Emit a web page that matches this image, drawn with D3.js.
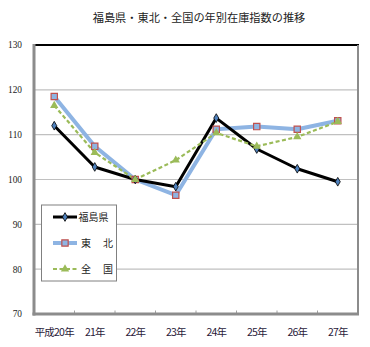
<!DOCTYPE html>
<html><head><meta charset="utf-8">
<script src="https://cdn.jsdelivr.net/npm/d3@7"></script>
<style>html,body{margin:0;padding:0;background:#fff;}svg{display:block;}</style>
</head><body>
<svg id="c" width="370" height="347"></svg>
<script>
const title = "福島県・東北・全国の年別在庫指数の推移";
const categories = ["平成20年","21年","22年","23年","24年","25年","26年","27年"];
const fukushima = [112.0, 102.8, 100.0, 98.4, 113.7, 106.8, 102.4, 99.5];
const tohoku    = [118.5, 107.4, 100.0, 96.5, 111.2, 111.8, 111.2, 113.1];
const zenkoku   = [116.5, 106.0, 100.0, 104.3, 110.4, 107.4, 109.5, 112.9];
const yTicks = [70, 80, 90, 100, 110, 120, 130];
const legendLabels = ["福島県", "東　北", "全　国"];

const svg = d3.select("#c");
const L = 34, R = 358, T = 45, B = 314;
const x = d3.scaleBand().domain(categories).range([L, R]);
const y = d3.scaleLinear().domain([70, 130]).range([B, T]);
const cx = d => x(d) + x.bandwidth() / 2;

svg.append("text").attr("x", 199).attr("y", 22).attr("text-anchor", "middle")
  .attr("font-family", "Noto Sans CJK JP").attr("font-size", 11.2).attr("fill", "#222").text(title);

// gridlines
svg.append("g").selectAll("line").data(yTicks.filter(t => t > 70 && t < 130)).join("line")
  .attr("x1", L).attr("x2", R).attr("y1", d => y(d)).attr("y2", d => y(d))
  .attr("stroke", "#c0c0c0").attr("stroke-width", 1.2);

// y labels
svg.append("g").selectAll("text").data(yTicks).join("text")
  .attr("x", 22).attr("y", d => y(d) + 3.5).attr("text-anchor", "end")
  .attr("font-family", "Liberation Serif").attr("font-size", 11).attr("fill", "#222")
  .attr("transform", d => `translate(22,0) scale(0.85,1) translate(-22,0)`)
  .text(d => d);

// frame
svg.append("line").attr("x1", L).attr("x2", R + 1).attr("y1", T).attr("y2", T).attr("stroke", "#000").attr("stroke-width", 2);
svg.append("line").attr("x1", R).attr("x2", R).attr("y1", T).attr("y2", B).attr("stroke", "#8c8c8c").attr("stroke-width", 2);

// x axis via d3
const xAxis = d3.axisBottom(x).tickSize(0).tickFormat(d => d);
const gx = svg.append("g").attr("transform", `translate(0,${B})`).call(xAxis);
gx.select(".domain").remove();
gx.selectAll("text").attr("font-family", "Noto Sans CJK JP").attr("font-size", 10.5).attr("fill", "#2a1a3a")
  .attr("y", 22).attr("dy", 0).attr("letter-spacing", "-0.8px");
// tick marks at band boundaries
svg.append("g").selectAll("line").data(categories.slice(1)).join("line")
  .attr("x1", d => x(d)).attr("x2", d => x(d)).attr("y1", B - 3.5).attr("y2", B)
  .attr("stroke", "#a0a0a0").attr("stroke-width", 1);
svg.append("line").attr("x1", L).attr("x2", L).attr("y1", T - 1).attr("y2", B + 1.5).attr("stroke", "#8c8c8c").attr("stroke-width", 3);
svg.append("line").attr("x1", L - 1.5).attr("x2", R + 1).attr("y1", B).attr("y2", B).attr("stroke", "#8c8c8c").attr("stroke-width", 3);

const line = d3.line().x((d, i) => cx(categories[i])).y(d => y(d));

// Tohoku
svg.append("path").datum(tohoku).attr("d", line).attr("fill", "none").attr("stroke", "#8eb4e3").attr("stroke-width", 4).attr("stroke-linejoin", "round");
// Fukushima
svg.append("path").datum(fukushima).attr("d", line).attr("fill", "none").attr("stroke", "#000").attr("stroke-width", 3).attr("stroke-linejoin", "round");
// Zenkoku
svg.append("path").datum(zenkoku).attr("d", line).attr("fill", "none").attr("stroke", "#9bbb59").attr("stroke-width", 2.2).attr("stroke-dasharray", "4,2.5");

const diamond = d3.symbol().type(d3.symbolDiamond).size(22);
const square = d3.symbol().type(d3.symbolSquare).size(40);
const tri = d3.symbol().type(d3.symbolTriangle).size(30);

function markFukushima(g, px, py) {
  g.append("path").attr("d", diamond()).attr("transform", `translate(${px},${py})`).attr("fill", "#4f81bd").attr("stroke", "#000").attr("stroke-width", 0.8);
}
function markTohoku(g, px, py) {
  g.append("path").attr("d", square()).attr("transform", `translate(${px},${py})`).attr("fill", "#8eb4e3").attr("stroke", "#c0504d").attr("stroke-width", 1.2);
}
function markZenkoku(g, px, py) {
  g.append("path").attr("d", tri()).attr("transform", `translate(${px},${py})`).attr("fill", "#9bbb59");
}
const mg = svg.append("g");
tohoku.forEach((v, i) => markTohoku(mg, cx(categories[i]), y(v)));
fukushima.forEach((v, i) => markFukushima(mg, cx(categories[i]), y(v)));
zenkoku.forEach((v, i) => markZenkoku(mg, cx(categories[i]), y(v)));

// legend
const lg = svg.append("g");
lg.append("rect").attr("x", 41.5).attr("y", 205).attr("width", 75).attr("height", 76).attr("fill", "#fff").attr("stroke", "#808080").attr("stroke-width", 1);
const ly = [217, 243, 269];
lg.append("line").attr("x1", 53).attr("x2", 77).attr("y1", ly[0]).attr("y2", ly[0]).attr("stroke", "#000").attr("stroke-width", 3);
markFukushima(lg, 65, ly[0]);
lg.append("line").attr("x1", 53).attr("x2", 77).attr("y1", ly[1]).attr("y2", ly[1]).attr("stroke", "#8eb4e3").attr("stroke-width", 4);
markTohoku(lg, 65, ly[1]);
lg.append("line").attr("x1", 53).attr("x2", 77).attr("y1", ly[2]).attr("y2", ly[2]).attr("stroke", "#9bbb59").attr("stroke-width", 2.2).attr("stroke-dasharray", "4,2.5");
markZenkoku(lg, 65, ly[2]);
lg.selectAll("text.lab").data(legendLabels).join("text").attr("class", "lab")
  .attr("x", (d, i) => i === 0 ? 78.5 : 81).attr("y", (d, i) => ly[i] + 3.5)
  .attr("font-family", "Noto Sans CJK JP").attr("font-size", 10).attr("fill", "#222")
  .attr("letter-spacing", (d, i) => i === 0 ? "0px" : "1px")
  .text(d => d);
</script>
</body></html>
